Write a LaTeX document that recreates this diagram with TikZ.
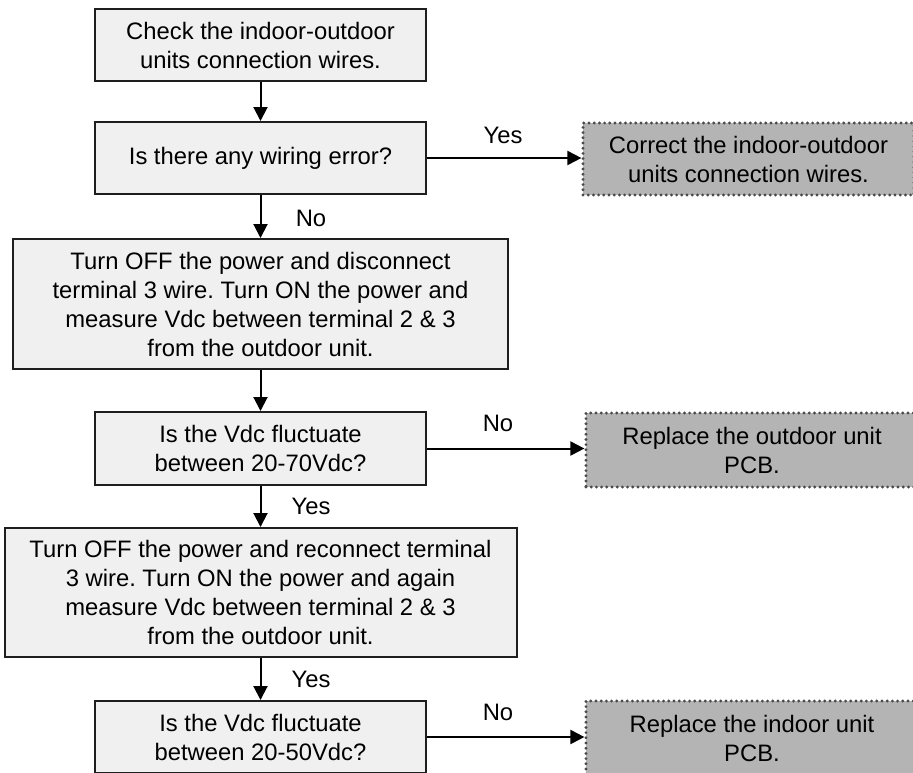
\documentclass[tikz,border=0pt]{standalone}
\usepackage{fontspec}
\setmainfont{Liberation Sans}
\usetikzlibrary{arrows.meta}
\definecolor{boxfill}{HTML}{F0F0F0}
\definecolor{endfill}{HTML}{B4B4B4}
\definecolor{boxline}{HTML}{1E1E1E}
\definecolor{dotline}{HTML}{4A4A4A}
\begin{document}
\frenchspacing
\begin{tikzpicture}[x=1pt,y=-1pt,
  font=\fontsize{23.8}{29}\selectfont,
  stepbox/.style={draw=boxline, line width=2pt, fill=boxfill, rectangle, align=center, inner sep=0pt},
  endbox/.style={draw=dotline, line width=3.2pt, dash pattern=on 0pt off 5.2pt, line cap=round, fill=endfill, rectangle, align=center, inner sep=0pt},
  flow/.style={draw=black, line width=2pt, -{Triangle[length=14pt,width=14pt]}},
  lbl/.style={inner sep=0pt}]
\useasboundingbox (0,0) rectangle (913,772);
\clip (0,0) rectangle (913,772);
\fill[white] (0,0) rectangle (913,772);

\node[stepbox, minimum width=331pt, minimum height=72pt] (b1) at (260.5,45) {Check the indoor-outdoor\\units connection wires.};
\node[stepbox, minimum width=331pt, minimum height=72pt] (b2) at (260.5,158) {Is there any wiring error?};
\node[stepbox, minimum width=495pt, minimum height=130pt] (b3) at (260.5,304) {Turn OFF the power and disconnect\\terminal 3 wire. Turn ON the power and\\measure Vdc between terminal 2 \& 3\\from the outdoor unit.};
\node[stepbox, minimum width=331pt, minimum height=73pt] (b4) at (260.5,448.5) {Is the Vdc fluctuate\\between 20-70Vdc?};
\node[stepbox, minimum width=512pt, minimum height=129pt] (b5) at (260.5,592.5) {Turn OFF the power and reconnect terminal\\3 wire. Turn ON the power and again\\measure Vdc between terminal 2 \& 3\\from the outdoor unit.};
\node[stepbox, minimum width=331pt, minimum height=72pt] (b6) at (260.5,737) {Is the Vdc fluctuate\\between 20-50Vdc?};

\node[endbox, minimum width=331pt, minimum height=72pt] (r1) at (748.5,159) {Correct the indoor-outdoor\\units connection wires.};
\node[endbox, minimum width=332pt, minimum height=74pt] (r2) at (752,450) {Replace the outdoor unit\\PCB.};
\node[endbox, minimum width=332pt, minimum height=74pt] (r3) at (752,738) {Replace the indoor unit\\PCB.};

\draw[flow] (b1) -- (b2);
\draw[flow] (b2) -- (b3);
\draw[flow] (b3) -- (b4);
\draw[flow] (b4) -- (b5);
\draw[flow] (b5) -- (b6);
\draw[flow] (b2.east) -- (b2.east -| r1.west);
\draw[flow] (b4.east) -- (b4.east -| r2.west);
\draw[flow] (b6.east) -- (b6.east -| r3.west);

\node[lbl] (l1) at (503,135) {Yes};
\node[lbl] (l2) at (311,218) {No};
\node[lbl] (l3) at (498,423) {No};
\node[lbl] (l4) at (311,506) {Yes};
\node[lbl] (l5) at (311,679) {Yes};
\node[lbl] (l6) at (498,712) {No};
\end{tikzpicture}
\end{document}
